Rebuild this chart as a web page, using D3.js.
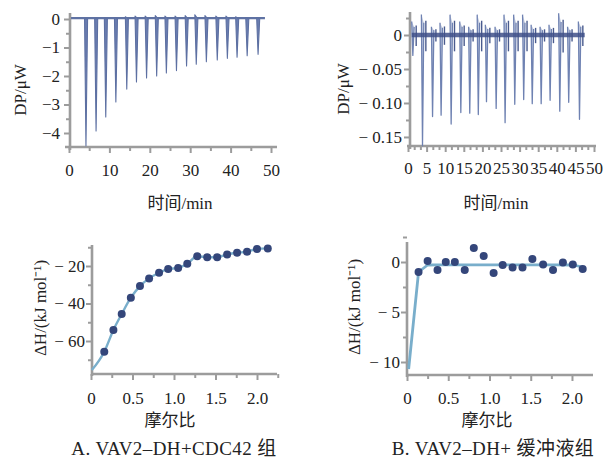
<!DOCTYPE html>
<html><head><meta charset="utf-8">
<script src="https://cdnjs.cloudflare.com/ajax/libs/d3/7.8.5/d3.min.js"></script>
<style>
body{margin:0;background:#fff;}
svg text{font-family:"Liberation Serif","Times New Roman","Noto Sans CJK SC",serif;fill:#222;}
</style></head><body>
<svg id="c" width="605" height="459"></svg>
<script>
// ---------- Panel A (top): raw ITC trace, VAV2-DH + CDC42 ----------
const aInjTime = [4.2, 6.7, 9.1, 11.6, 14.3, 16.7, 19.2, 21.7, 24.1, 26.6, 29.1, 31.5, 34.0, 36.7, 39.2, 41.6, 44.1, 46.8];
const aInjPeak = [-4.45, -3.93, -3.44, -2.91, -2.46, -2.21, -2.07, -2.0, -1.89, -1.81, -1.65, -1.59, -1.50, -1.44, -1.38, -1.34, -1.29, -1.24];
const aInjUp   = [0.02, 0.03, 0.03, 0.05, 0.08, 0.10, 0.10, 0.12, 0.10, 0.10, 0.12, 0.15, 0.12, 0.10, 0.10, 0.08, 0.05, 0.05];
const aRunSpan = [0.5, 48.5];
const aTimeTicks = [0, 10, 20, 30, 40, 50];
const aDPTicks = [0, -1, -2, -3, -4];

// ---------- Panel B (top): raw ITC trace, VAV2-DH + buffer ----------
const bInjTime = [1.3, 3.9, 6.6, 8.9, 11.6, 14.2, 16.6, 18.9, 21.1, 23.7, 26.1, 28.7, 31.1, 33.4, 35.8, 38.2, 40.8, 43.2, 46.1];
const bInjPeak = [-0.03, -0.163, -0.12, -0.118, -0.131, -0.114, -0.115, -0.117, -0.098, -0.108, -0.129, -0.102, -0.095, -0.101, -0.101, -0.096, -0.112, -0.099, -0.124];
const bInjUp   = [0.02, 0.03, 0.012, 0.018, 0.03, 0.02, 0.012, 0.03, 0.015, 0.012, 0.03, 0.03, 0.03, 0.015, 0.012, 0.015, 0.032, 0.012, 0.02];
const bRunSpan = [1.0, 47.5];
const bTimeTicks = [0, 5, 10, 15, 20, 25, 30, 35, 40, 45, 50];
const bDPTicks = [0, -0.05, -0.10, -0.15];

// ---------- Panel A (bottom): integrated heats ----------
const aRatio = [0.16, 0.27, 0.37, 0.48, 0.59, 0.70, 0.82, 0.93, 1.05, 1.16, 1.28, 1.40, 1.52, 1.64, 1.76, 1.88, 2.00, 2.13];
const aDH    = [-65.7, -54.1, -45.6, -36.9, -30.7, -26.6, -23.6, -21.6, -21.0, -18.8, -14.8, -15.3, -15.3, -13.8, -12.9, -12.4, -10.9, -10.6];
const aFitRatio = [0.01, 0.16, 0.27, 0.37, 0.48, 0.59, 0.70, 0.82, 0.93, 1.05, 1.16, 1.28, 1.40, 1.52, 1.64, 1.76, 1.88, 2.00, 2.13];
const aFitDH    = [-75.5, -65.7, -54.1, -45.6, -36.9, -30.7, -26.6, -23.6, -21.6, -21.0, -18.8, -14.8, -15.3, -15.3, -13.8, -12.9, -12.4, -10.9, -10.6];
const aDHTicks = [-20, -40, -60];

// ---------- Panel B (bottom): integrated heats ----------
const bRatio = [0.14, 0.25, 0.37, 0.47, 0.58, 0.70, 0.81, 0.93, 1.05, 1.16, 1.28, 1.40, 1.52, 1.65, 1.77, 1.89, 2.01, 2.13];
const bDH    = [-1.0, 0.1, -0.8, 0.0, 0.0, -0.8, 1.4, 0.6, -1.1, -0.3, -0.55, -0.55, 0.3, -0.25, -0.8, -0.05, -0.25, -0.7];
const bFitRatio = [0.02, 0.14, 0.25, 0.37, 1.0, 1.77, 2.01, 2.13];
const bFitDH    = [-10.7, -1.0, -0.3, -0.28, -0.28, -0.28, -0.3, -0.5];
const bDHTicks = [0, -5, -10];
const ratioTicks = [0, 0.5, 1.0, 1.5, 2.0];

const captions = ["A. VAV2–DH+CDC42 组", "B. VAV2–DH+ 缓冲液组"];

// ================= drawing =================
const svg = d3.select("#c");
const AX = "#9c9c9c";
const FS = 17;
const minus = s => s.replace(/[-\u2212]/, "\u2212");
const wideMinus = s => s.replace(/[-\u2212]/, "\u2212\u00a0");

function axes(x, y, c) {
  const g = svg.append("g");
  g.append("g").attr("transform", `translate(0,${c.xAxisY})`)
    .call(d3.axisBottom(x).tickValues(c.xMinor).tickFormat("").tickSize(4).tickSizeOuter(0));
  g.append("g").attr("transform", `translate(${c.yAxisX},0)`)
    .call(d3.axisLeft(y).tickValues(c.yMinor).tickFormat("").tickSize(4).tickSizeOuter(0));
  g.append("g").attr("transform", `translate(0,${c.xAxisY})`)
    .call(d3.axisBottom(x).tickValues(c.xMajor).tickFormat(c.xFmt).tickSize(6).tickPadding(c.xPad).tickSizeOuter(0));
  g.append("g").attr("transform", `translate(${c.yAxisX},0)`)
    .call(d3.axisLeft(y).tickValues(c.yMajor).tickFormat(c.yFmt).tickSize(6).tickPadding(c.yPad).tickSizeOuter(0));
  g.selectAll(".domain").remove();
  g.selectAll(".tick line").attr("stroke", AX).attr("stroke-width", 2);
  g.selectAll(".tick text").attr("font-size", c.fs || FS).attr("fill", "#222")
    .style("font-family", '"Liberation Serif","Times New Roman",serif');
  g.append("line").attr("x1", c.xLine[0]).attr("x2", c.xLine[1]).attr("y1", c.xAxisY).attr("y2", c.xAxisY)
    .attr("stroke", AX).attr("stroke-width", 2.6);
  g.append("line").attr("x1", c.yAxisX).attr("x2", c.yAxisX).attr("y1", c.yLine[0]).attr("y2", c.yLine[1])
    .attr("stroke", AX).attr("stroke-width", 2.6);
}
function label(txt, x, y, rot, size, ls) {
  svg.append("text").attr("x", x).attr("y", y).attr("text-anchor", "middle")
    .attr("dominant-baseline", "central").attr("font-size", size || FS)
    .attr("letter-spacing", ls || null)
    .attr("transform", rot ? `rotate(-90,${x},${y})` : null).text(txt);
}
const intFmt = d => d === 0 ? "0" : minus(String(d));
const wideIntFmt = d => d === 0 ? "0" : wideMinus(String(d));
const ratioFmt = d => d === 0 ? "0" : d3.format(".1f")(d);

// ---- Panel A top ----
{
  const x = d3.scaleLinear().domain([0, 50]).range([69, 271]);
  const y = d3.scaleLinear().domain([-4.5, 0.2]).range([147.25, 13.3]);
  axes(x, y, {xAxisY: 147, yAxisX: 70, xLine: [65, 277], yLine: [13, 150],
    xMajor: aTimeTicks, xMinor: d3.range(5, 50, 10), xFmt: d3.format("d"), xPad: 11,
    yMajor: aDPTicks, yMinor: [-0.5, -1.5, -2.5, -3.5], yFmt: intFmt, yPad: 4});
  const tr = svg.append("g");
  tr.append("line").attr("x1", x(aRunSpan[0])).attr("x2", x(aRunSpan[1]))
    .attr("y1", y(0.03)).attr("y2", y(0.03)).attr("stroke", "#5f72a3").attr("stroke-width", 2.2);
  aInjTime.forEach((t, i) => {
    const p = d3.path();
    p.moveTo(x(t - 0.35), y(aInjUp[i]));
    p.lineTo(x(t), y(aInjPeak[i]));
    p.lineTo(x(t + 0.4), y(0));
    p.closePath();
    tr.append("path").attr("d", p.toString()).attr("fill", "#6a7db0").attr("stroke", "#5d70a2")
      .attr("stroke-width", 1.1).attr("stroke-linejoin", "round");
  });
  label("DP/μW", 20, 90, true, 17);
  label("时间/min", 180, 203, false, 17);
}

// ---- Panel B top ----
{
  const x = d3.scaleLinear().domain([0, 50]).range([408, 594]);
  const y = d3.scaleLinear().domain([-0.163, 0.034]).range([145.8, 11.9]);
  axes(x, y, {xAxisY: 146, yAxisX: 410, xLine: [407, 596], yLine: [12, 149],
    xMajor: bTimeTicks, xMinor: d3.range(0, 50, 5 / 3).filter((v, i) => i % 3 !== 0), xFmt: d3.format("d"), xPad: 10,
    yMajor: bDPTicks, yMinor: [0.025, -0.025, -0.075, -0.125], yFmt: d => d === 0 ? "0" : wideMinus(d3.format(".2f")(d)), yPad: 2});
  const tr = svg.append("g");
  bInjTime.forEach((t, i) => {
    const p = d3.path();
    p.moveTo(x(t - 0.3), y(bInjUp[i]));
    p.lineTo(x(t), y(bInjPeak[i]));
    p.lineTo(x(t + 0.35), y(bInjUp[i] * 0.6));
    tr.append("path").attr("d", p.toString()).attr("fill", "#8797c0").attr("fill-opacity", 0.5)
      .attr("stroke", "#6f82b2").attr("stroke-width", 1.3).attr("stroke-linejoin", "round");
    tr.append("line").attr("x1", x(t + 0.9)).attr("x2", x(t + 0.9)).attr("y1", y(bInjUp[i] * 0.7)).attr("y2", y(-bInjUp[i] * 0.8))
      .attr("stroke", "#4a5b8e").attr("stroke-width", 1.4);
  });
  tr.append("line").attr("x1", x(bRunSpan[0])).attr("x2", x(bRunSpan[1]))
    .attr("y1", y(0)).attr("y2", y(0)).attr("stroke", "#3f5088").attr("stroke-width", 4.5).attr("stroke-opacity", 0.85);
  label("DP/μW", 343, 89, true, 17);
  label("时间/min", 496, 203, false, 17);
}

// ---- Panel A bottom ----
{
  const x = d3.scaleLinear().domain([0, 2.25]).range([91, 277.75]);
  const y = d3.scaleLinear().domain([-77.6, -8.8]).range([374, 245]);
  axes(x, y, {xAxisY: 374, yAxisX: 92, xLine: [91, 277], yLine: [245, 376],
    xMajor: ratioTicks, xMinor: [0.25, 0.75, 1.25, 1.75, 2.25], xFmt: ratioFmt, xPad: 12,
    yMajor: aDHTicks, yMinor: [-10, -30, -50, -70], yFmt: wideIntFmt, yPad: 1});
  svg.append("path").datum(aFitRatio.map((r, i) => [r, aFitDH[i]]))
    .attr("d", d3.line().x(d => x(d[0])).y(d => y(d[1])).curve(d3.curveMonotoneX))
    .attr("fill", "none").attr("stroke", "#79aecb").attr("stroke-width", 2.4);
  svg.append("g").selectAll("circle").data(aRatio).join("circle")
    .attr("cx", d => x(d)).attr("cy", (d, i) => y(aDH[i])).attr("r", 4).attr("fill", "#34467a");
  label("ΔH/(kJ mol⁻¹)", 40, 308, true, 17);
  label("摩尔比", 170, 420, false, 17);
  label(captions[0], 174, 448, false, 19, 0.4);
}

// ---- Panel B bottom ----
{
  const x = d3.scaleLinear().domain([0, 2.25]).range([407, 592.6]);
  const y = d3.scaleLinear().domain([-11.3, 2.0]).range([375, 242]);
  axes(x, y, {xAxisY: 375, yAxisX: 407, xLine: [407, 593], yLine: [242, 377],
    xMajor: ratioTicks, xMinor: [0.25, 0.75, 1.25, 1.75], xFmt: ratioFmt, xPad: 11,
    yMajor: bDHTicks, yMinor: [2.5, -2.5, -7.5], yFmt: wideIntFmt, yPad: 1});
  svg.append("path").datum(bFitRatio.map((r, i) => [r, bFitDH[i]]))
    .attr("d", d3.line().x(d => x(d[0])).y(d => y(d[1])))
    .attr("fill", "none").attr("stroke", "#79aecb").attr("stroke-width", 2.8).attr("stroke-linejoin", "round");
  svg.append("g").selectAll("circle").data(bRatio).join("circle")
    .attr("cx", d => x(d)).attr("cy", (d, i) => y(bDH[i])).attr("r", 4).attr("fill", "#34467a");
  label("ΔH/(kJ mol⁻¹)", 354, 307, true, 17);
  label("摩尔比", 487, 420, false, 17);
  label(captions[1], 493, 448, false, 19, 0.4);
}
</script></body></html>
